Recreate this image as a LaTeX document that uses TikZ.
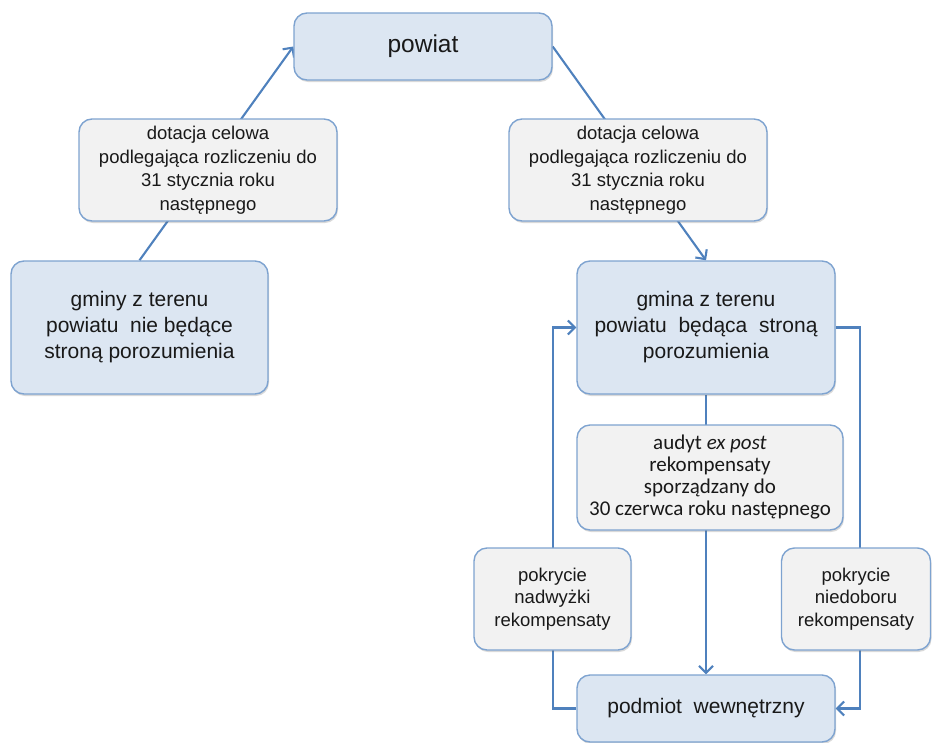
\documentclass[tikz,border=0pt]{standalone}
\usepackage{fontspec}
\setmainfont{Liberation Sans}
\newfontfamily\calfont{Carlito}
\usetikzlibrary{arrows.meta,shadows,backgrounds}
\definecolor{boxblue}{HTML}{DCE6F2}
\definecolor{boxgray}{HTML}{F2F2F2}
\definecolor{edgeblue}{HTML}{7EA3D0}
\definecolor{lineblue}{HTML}{4F81BD}
\tikzset{
  basebox/.style={draw=edgeblue, line width=1.4pt, rounded corners=13pt, align=center,
    inner sep=2pt, text=black!90,
    drop shadow={shadow xshift=1pt, shadow yshift=-2pt, opacity=0.25, fill=black!60}},
  bluebox/.style={basebox, fill=boxblue},
  graybox/.style={basebox, fill=boxgray},
  conn/.style={draw=lineblue, line width=2.1pt},
  arr/.style={conn, -{Straight Barb[length=7pt,width=14pt,line width=2.1pt]}},
}
\begin{document}
\begin{tikzpicture}[x=1pt,y=-1pt]
\useasboundingbox (0,0) rectangle (932,742);
% main boxes
\node[bluebox, minimum width=258pt, minimum height=67pt, font=\fontsize{24.5}{28}\selectfont] (powiat) at (423,46.5) {powiat};
\node[bluebox, minimum width=257pt, minimum height=133pt, font=\fontsize{21}{26}\selectfont] (gminy) at (139.5,327.5) {gminy z terenu\\powiatu\ \ nie\ będące\\stroną porozumienia};
\node[bluebox, minimum width=258pt, minimum height=133pt, font=\fontsize{21}{26}\selectfont] (gmina) at (706,327.5) {gmina\ z terenu\\powiatu\ \ będąca\ \ stroną\\porozumienia};
\node[bluebox, minimum width=258pt, minimum height=67pt, font=\fontsize{21}{26}\selectfont] (podmiot) at (706,708.5) {podmiot\ \ wewnętrzny};
% connectors
\coordinate (L) at (553,708.5);
\coordinate (R) at (860,327.5);
\begin{scope}[on background layer]
\draw[arr] (gminy.north) -- (powiat.west);
\draw[arr] (powiat.east) -- (gmina.north);
\draw[arr] (gmina.south) -- (podmiot.north);
\draw[arr] (podmiot.west) -- (L) |- (gmina.west);
\draw[arr] (gmina.east) -- (R) |- (podmiot.east);
\end{scope}
% labels
\node[graybox, minimum width=258pt, minimum height=102pt, font=\fontsize{18.5}{23.5}\selectfont] (lab1) at (208,170) {dotacja celowa\\podlegająca rozliczeniu do\\31 stycznia roku\\następnego};
\node[graybox, minimum width=258pt, minimum height=102pt, font=\fontsize{18.5}{23.5}\selectfont] (lab2) at (638,170) {dotacja celowa\\podlegająca rozliczeniu do\\31 stycznia roku\\następnego};
\node[graybox, minimum width=266pt, minimum height=105pt, font=\calfont\fontsize{21}{22}\selectfont] (audyt) at (710,477.5) {audyt \textit{ex post}\\rekompensaty\\sporządzany do\\30 czerwca roku następnego};
\node[graybox, minimum width=157pt, minimum height=102pt, font=\fontsize{18.5}{22.5}\selectfont] (nadw) at (552.5,599) {pokrycie\\nadwyżki\\rekompensaty};
\node[graybox, minimum width=149pt, minimum height=102pt, font=\fontsize{18.5}{22.5}\selectfont] (nied) at (856,599) {pokrycie\\niedoboru\\rekompensaty};
\end{tikzpicture}
\end{document}
